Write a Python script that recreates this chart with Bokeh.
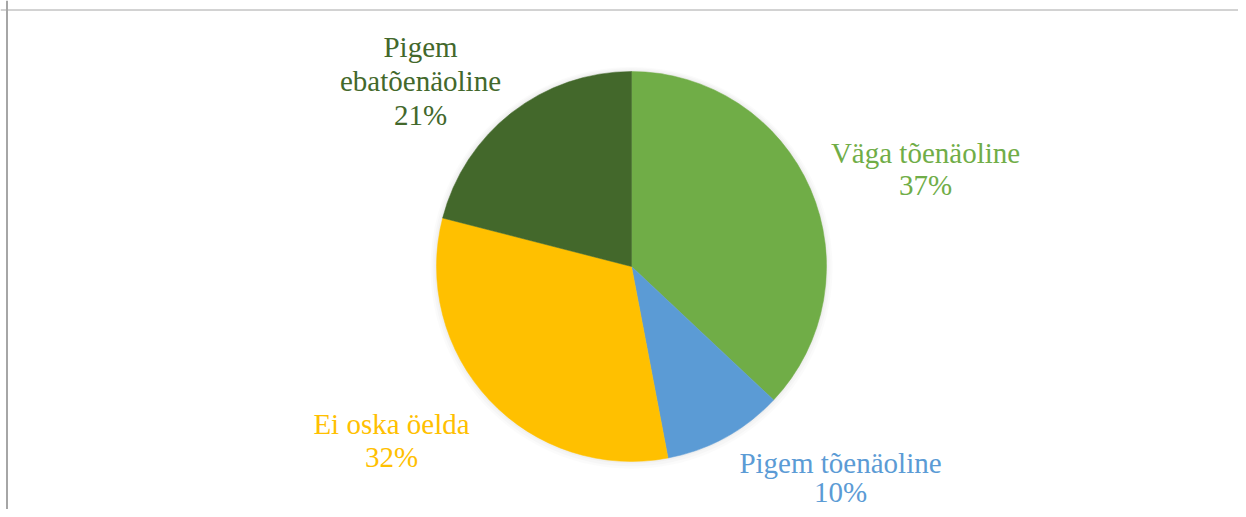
import math
from bokeh.plotting import figure
from bokeh.models import Range1d, Span, ColumnDataSource
from bokeh.core.properties import value
from bokeh.embed import file_html
from bokeh.resources import INLINE

# ---- data ----
categories = ["Väga tõenäoline", "Pigem tõenäoline", "Ei oska öelda", "Pigem ebatõenäoline"]
values = [37, 10, 32, 21]
colors = ["#70AD47", "#5B9BD5", "#FFC000", "#43682B"]
label_lines = [["Väga tõenäoline"], ["Pigem tõenäoline"], ["Ei oska öelda"], ["Pigem", "ebatõenäoline"]]

# ---- layout (pixel offsets from pie centre, y up) ----
W, H = 1238, 509
CX, CY = 631, 266          # pie centre in picture pixels
R = 195
label_pos = [(294, 114), (209, -196), (-240, -157), (-211, 220)]  # first-line anchor
label_step = [32, 29, 33, 34]
FONT = "29px"

p = figure(width=W, height=H, output_backend="svg", toolbar_location=None,
           x_range=Range1d(-CX, W - CX), y_range=Range1d(CY - H, CY),
           min_border=0, outline_line_color=None)
p.axis.visible = False
p.grid.visible = False
p.background_fill_color = "white"

# soft shadow
for rr, a in [(201, 0.03), (199, 0.04), (197, 0.05)]:
    p.circle(x=[0], y=[0.5 - (rr - R) * 0.3], radius=rr, fill_color="#808080", fill_alpha=a, line_color=None)

total = sum(values)
starts, ends = [], []
ang = math.pi / 2
for v in values:
    starts.append(ang)
    ang -= 2 * math.pi * v / total
    ends.append(ang)

src = ColumnDataSource(dict(start=starts, end=ends, color=colors, cat=categories))
p.wedge(x=0, y=0, radius=R, start_angle="start", end_angle="end", direction="clock",
        fill_color="color", line_color="color", line_width=0.5, source=src)

# labels
tx, ty, tt, tc = [], [], [], []
for i, v in enumerate(values):
    lines = label_lines[i] + [f"{round(100 * v / total)}%"]
    x0, y0 = label_pos[i]
    for k, ln in enumerate(lines):
        tx.append(x0)
        ty.append(y0 - k * label_step[i])
        tt.append(ln)
        tc.append(colors[i])
p.text(x=tx, y=ty, text=tt, text_color=tc, text_align="center", text_baseline="alphabetic",
       text_font=value("Liberation Serif"), text_font_size=FONT)

# chart-area border (top and left visible)
p.add_layout(Span(location=6.5 - CX, dimension="height", line_color="#A6A6A6", line_width=2))
p.add_layout(Span(location=CY - 9.5, dimension="width", line_color="#A6A6A6", line_width=1))

open("out.html", "w").write(file_html(p, INLINE))
